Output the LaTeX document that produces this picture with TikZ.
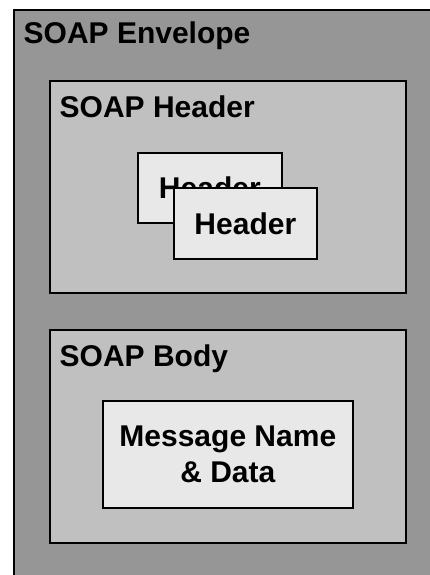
\documentclass[tikz,border=0pt]{standalone}
\usepackage{fontspec}
\setmainfont{Liberation Sans}
\definecolor{envfill}{HTML}{969696}
\definecolor{partfill}{HTML}{C0C0C0}
\definecolor{itemfill}{HTML}{E8E8E8}
\begin{document}
\begin{tikzpicture}[x=1pt,y=-1pt,
  frame/.style={draw=black, line width=1.7pt, inner sep=0pt, anchor=north west},
  envbox/.style={frame, fill=envfill},
  partbox/.style={frame, fill=partfill},
  itembox/.style={frame, fill=itemfill, font=\fontsize{30}{35.7}\selectfont\bfseries, align=center},
  title/.style={anchor=base west, inner sep=0pt, font=\fontsize{30}{36}\selectfont\bfseries}]
  \useasboundingbox (0,0) rectangle (429,575);
  % envelope (runs off the right and bottom edges)
  \node[envbox, minimum width=440pt, minimum height=590pt] (env) at (13,9) {};
  \node[title] (envlabel) at (23.5,44) {SOAP Envelope};
  % header part with two stacked header entries
  \node[partbox, minimum width=356pt, minimum height=212pt] (hdr) at (49,80) {};
  \node[title] (hdrlabel) at (59.5,117.5) {SOAP Header};
  \node[itembox, minimum width=144pt, minimum height=70pt] (h1) at (137,152) {Header};
  \node[itembox, minimum width=143pt, minimum height=71pt] (h2) at (173,187) {Header};
  % body part with the message
  \node[partbox, minimum width=356pt, minimum height=213pt] (body) at (49,329) {};
  \node[title] (bodylabel) at (59.5,366.5) {SOAP Body};
  \node[itembox, minimum width=250pt, minimum height=107pt] (msg) at (102,400) {Message Name\\ \& Data};
\end{tikzpicture}
\end{document}
